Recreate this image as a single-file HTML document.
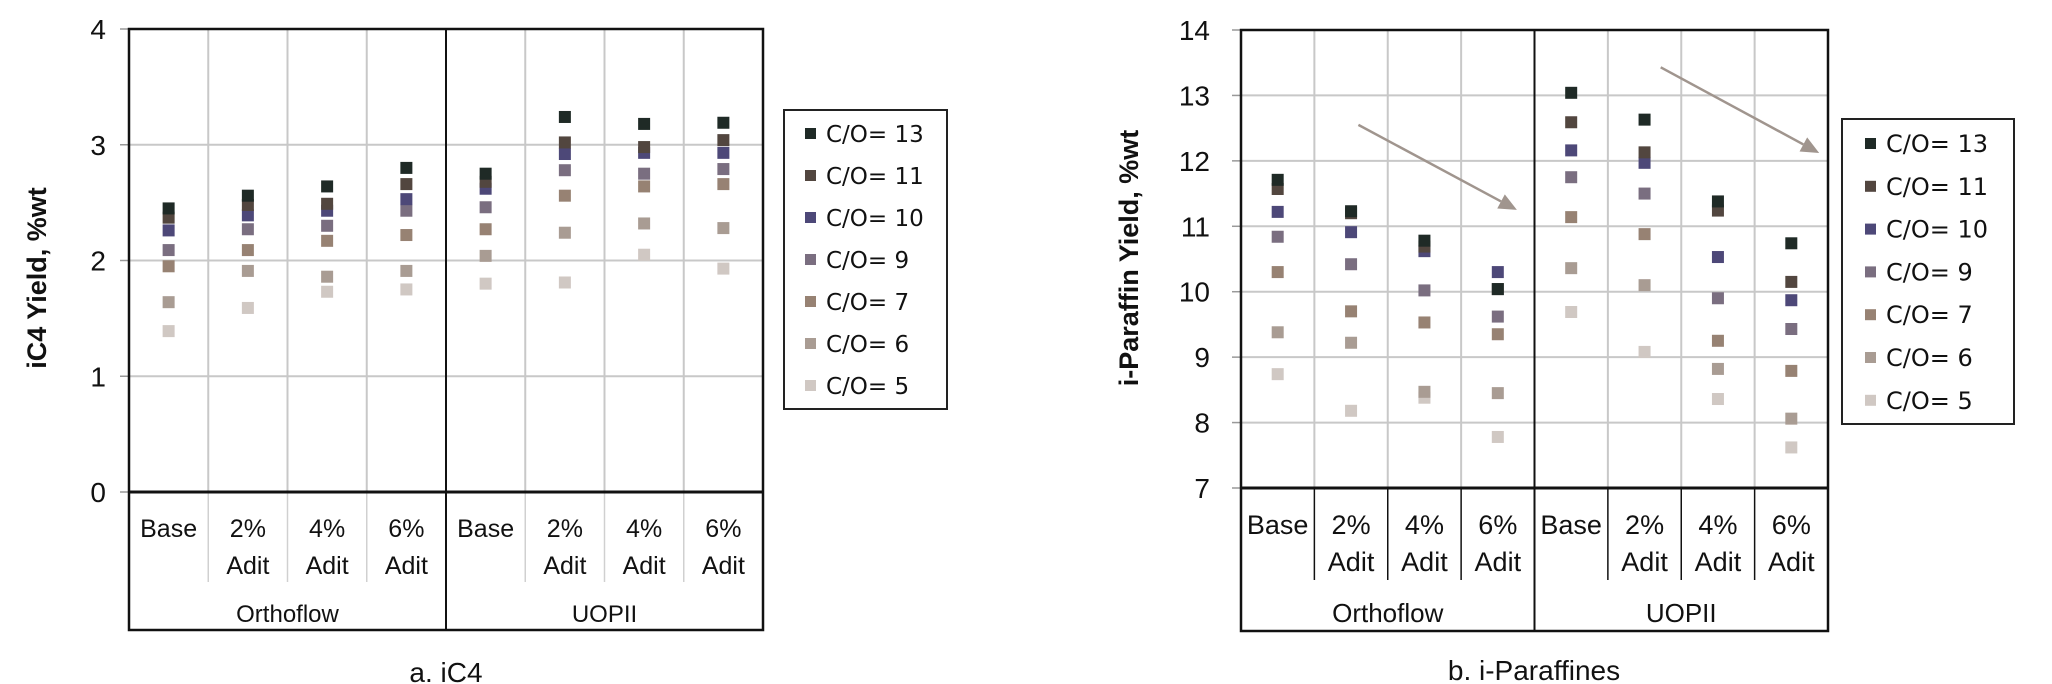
<!DOCTYPE html>
<html><head><meta charset="utf-8"><style>
html,body{margin:0;padding:0;background:#fff;}
svg{display:block;}
text{font-family:"Liberation Sans",sans-serif;fill:#111;}
.leg{font-family:"DejaVu Sans","Liberation Sans",sans-serif;}
</style></head>
<body>
<svg id="chart" width="2052" height="684" viewBox="0 0 2052 684" xmlns="http://www.w3.org/2000/svg"></svg>
<script>
const categories = ["Base","2% Adit","4% Adit","6% Adit","Base","2% Adit","4% Adit","6% Adit"];
const groups = ["Orthoflow","UOPII"];
const seriesNames = ["C/O= 13","C/O= 11","C/O= 10","C/O= 9","C/O= 7","C/O= 6","C/O= 5"];
const seriesColors = ["#1f2a26","#52463f","#4d4878","#7a6e80","#978273","#a99c93","#d0c8c3"];
// iC4 yield values (per series, per category)
const ic4_co13 = [2.45,2.56,2.64,2.80,2.75,3.24,3.18,3.19];
const ic4_co11 = [2.37,2.48,2.49,2.66,2.68,3.02,2.98,3.04];
const ic4_co10 = [2.26,2.39,2.43,2.53,2.62,2.92,2.93,2.93];
const ic4_co9  = [2.09,2.27,2.30,2.43,2.46,2.78,2.75,2.79];
const ic4_co7  = [1.95,2.09,2.17,2.22,2.27,2.56,2.64,2.66];
const ic4_co6  = [1.64,1.91,1.86,1.91,2.04,2.24,2.32,2.28];
const ic4_co5  = [1.39,1.59,1.73,1.75,1.80,1.81,2.05,1.93];
// i-paraffin yield values
const ip_co13 = [11.71,11.23,10.78,10.04,13.04,12.63,11.38,10.74];
const ip_co11 = [11.57,11.20,10.69,10.04,12.59,12.13,11.24,10.15];
const ip_co10 = [11.22,10.91,10.62,10.30,12.16,11.97,10.53,9.87];
const ip_co9  = [10.84,10.42,10.02,9.62,11.75,11.50,9.90,9.43];
const ip_co7  = [10.30,9.70,9.53,9.35,11.14,10.88,9.25,8.79];
const ip_co6  = [9.38,9.22,8.47,8.45,10.36,10.10,8.82,8.06];
const ip_co5  = [8.74,8.18,8.38,7.78,9.69,9.08,8.36,7.62];
const ic4Ticks = [0,1,2,3,4];
const ipTicks = [7,8,9,10,11,12,13,14];
// trend arrows: [startCat, startVal, endCat, endVal]
const arrow1 = [1.10,12.55,3.26,11.25];
const arrow2 = [5.22,13.43,7.38,12.12];

const NS = "http://www.w3.org/2000/svg";
const svg = document.getElementById("chart");
function mk(tag, attrs, parent){
  const e = document.createElementNS(NS, tag);
  for (const k in attrs) e.setAttribute(k, attrs[k]);
  (parent||svg).appendChild(e);
  return e;
}

function drawChart(cfg){
  const g = mk("g",{});
  
  
  const {x0,x1,yTop,yBot,boxBot,vMin,vMax} = cfg;
  const n = categories.length;
  const cw = (x1-x0)/n;
  const xs = i => x0 + cw*(i+0.5);
  const xc = c => x0 + cw*(c+0.5);
  const ys = v => yBot - (v-vMin)/(vMax-vMin)*(yBot-yTop);
  // horizontal grid + ticks
  cfg.ticks.forEach(t=>{
    const y = ys(t);
    if (t!==vMin && t!==vMax){
      const l = mk("line",{x1:x0,x2:x1,y1:y,y2:y,stroke:"#c8c8c8","stroke-width":2},g);
      
      
    }
    mk("line",{x1:x0-9,x2:x0,y1:y,y2:y,stroke:"#999","stroke-width":1.5},g);
    const tx = mk("text",{x:cfg.tickX,y:y+10,"text-anchor":"end","font-size":cfg.tickFont},g);
    tx.textContent = t;
    
    
  });
  // vertical grid lines
  for (let i=1;i<n;i++){
    if (i===n/2) continue;
    const x = x0+cw*i;
    mk("line",{x1:x,x2:x,y1:yTop,y2:yBot,stroke:"#c8c8c8","stroke-width":2},g);
    const sl = mk("line",{x1:x,x2:x,y1:yBot,y2:cfg.subBot,stroke:cfg.subColor,"stroke-width":cfg.subW},g);
    
    
  }
  // frame
  const fr = mk("rect",{x:x0,y:yTop,width:x1-x0,height:boxBot-yTop,fill:"none",stroke:"#111","stroke-width":2.5},g);
  
  
  mk("line",{x1:x0,x2:x1,y1:yBot,y2:yBot,stroke:"#111","stroke-width":3},g);
  const xm = x0+cw*n/2;
  mk("line",{x1:xm,x2:xm,y1:yTop,y2:boxBot,stroke:"#111","stroke-width":2},g);
  // category labels
  categories.forEach((c,i)=>{
    const parts = c.split(" ");
    parts.forEach((p,j)=>{
      const t = mk("text",{x:xs(i),y:cfg.catY+j*cfg.catDy,"text-anchor":"middle","font-size":cfg.catFont},g);
      t.textContent = p;
      
      
    });
  });
  groups.forEach((gr,i)=>{
    const t = mk("text",{x:x0+cw*n/4*(2*i+1),y:cfg.grpY,"text-anchor":"middle","font-size":cfg.catFont-1},g);
    t.textContent = gr;
    
    
  });
  // series markers (draw lightest first so darkest on top)
  for (let s=cfg.series.length-1;s>=0;s--){
    cfg.series[s].forEach((v,i)=>{
      const r = mk("rect",{x:xs(i)-6,y:ys(v)-6,width:12,height:12,fill:seriesColors[s]},g);
      
      
    });
  }
  // arrows
  (cfg.arrows||[]).forEach(a=>{
    const sx=xc(a[0]), sy=ys(a[1]), ex=xc(a[2]), ey=ys(a[3]);
    const ang=Math.atan2(ey-sy,ex-sx), L=18, W=8;
    const bx=ex-L*Math.cos(ang), by=ey-L*Math.sin(ang);
    const ar = mk("g",{},g);
    
    
    mk("line",{x1:sx,y1:sy,x2:bx,y2:by,stroke:"#a0958e","stroke-width":2.5},ar);
    const px=-Math.sin(ang)*W, py=Math.cos(ang)*W;
    mk("polygon",{points:`${ex},${ey} ${bx+px},${by+py} ${bx-px},${by-py}`,fill:"#a0958e"},ar);
  });
  // y title
  const yt = mk("text",{x:cfg.titleX,y:cfg.titleY,"text-anchor":"middle","font-size":27,"font-weight":"bold",transform:`rotate(-90 ${cfg.titleX} ${cfg.titleY})`},g);
  yt.textContent = cfg.yTitle;
  
  
  // caption
  const cp = mk("text",{x:cfg.capX,y:cfg.capY,"text-anchor":"middle","font-size":28},g);
  cp.textContent = cfg.caption;
  
  
  // legend
  const lg = mk("g",{},g);
  
  
  const L = cfg.leg;
  mk("rect",{x:L.x,y:L.y,width:L.w,height:L.h,fill:"#fff",stroke:"#222","stroke-width":2},lg);
  seriesNames.forEach((nm,s)=>{
    const yy = L.y0 + s*L.dy;
    const e = mk("g",{},lg);
    
    
    mk("rect",{x:L.mx-5,y:yy-5,width:11,height:11,fill:seriesColors[s]},e);
    const t = mk("text",{x:L.tx,y:yy+9,"font-size":L.font,class:"leg"},e);
    t.textContent = nm;
  });
}

drawChart({name:"ic4-chart",x0:129,x1:763,yTop:29,yBot:492,boxBot:630,vMin:0,vMax:4,ticks:ic4Ticks,
  tickX:106,tickFont:28,subBot:582,subColor:"#d0d0d0",subW:1.5,catY:537,catDy:37,catFont:25,grpY:622,
  series:[ic4_co13,ic4_co11,ic4_co10,ic4_co9,ic4_co7,ic4_co6,ic4_co5],
  titleX:46,titleY:278,yTitle:"iC4 Yield, %wt",capX:446,capY:682,caption:"a. iC4",
  leg:{x:784,y:110,w:163,h:299,y0:133,dy:42,mx:810,tx:826,font:23}});

drawChart({name:"iparaffin-chart",x0:1241,x1:1828,yTop:30,yBot:488,boxBot:631,vMin:7,vMax:14,ticks:ipTicks,
  tickX:1210,tickFont:28,subBot:580,subColor:"#111",subW:1.5,catY:534,catDy:37,catFont:27,grpY:622,
  series:[ip_co13,ip_co11,ip_co10,ip_co9,ip_co7,ip_co6,ip_co5],
  titleX:1138,titleY:258,yTitle:"i-Paraffin Yield, %wt",capX:1534,capY:680,caption:"b. i-Paraffines",
  arrows:[arrow1,arrow2],
  leg:{x:1842,y:119,w:172,h:305,y0:143,dy:42.8,mx:1870,tx:1886,font:24}});
</script>
</body></html>
